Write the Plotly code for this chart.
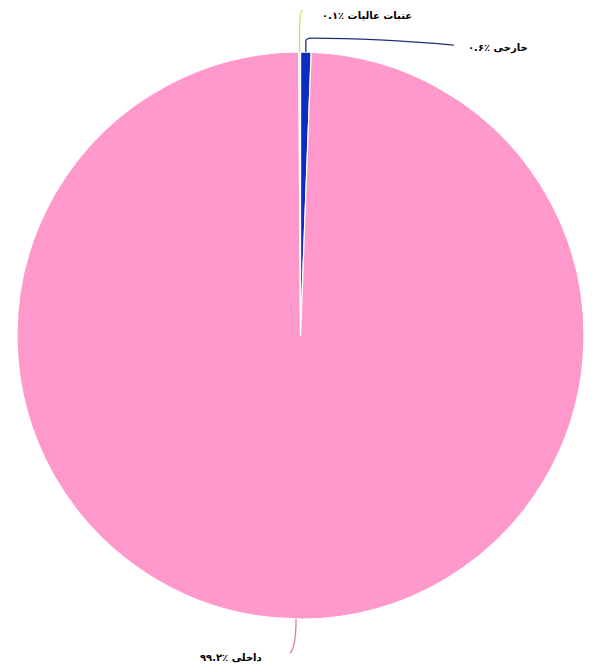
import math
import plotly.graph_objects as go

labels = ["خارجی", "داخلی", "عتبات عالیات"]
values = [0.6, 99.2, 0.1]
value_text = ["۰.۶٪", "۹۹.۲٪", "۰.۱٪"]
colors = ["#0a2fc0", "#ff99cc", "#d6ec7a"]
line_colors = ["#1a2f80", "#e07aa8", "#c8e070"]

PAGE_MARGIN = 8  # default body margin of the html page
W, H = 592 - 2 * PAGE_MARGIN, 671 - 2 * PAGE_MARGIN
left, right, top, bottom = 17, 584, 46, 625  # in page pixels
cx, cy = (left + right) / 2, (top + bottom) / 2
r = min(right - left, bottom - top) / 2


def px(x):
    return (x - PAGE_MARGIN) / W


def py(y):
    return 1 - (y - PAGE_MARGIN) / H


fig = go.Figure(go.Pie(
    labels=labels,
    values=values,
    sort=False,
    direction="clockwise",
    rotation=0,
    marker=dict(colors=colors, line=dict(color="#ffffff", width=1.2)),
    textinfo="none",
    hoverinfo="label+percent",
    domain=dict(x=[px(left), px(right)], y=[py(bottom), py(top)]),
    showlegend=False,
))

total = sum(values)
angles = []
acc = 0
for v in values:
    mid = (acc + v / 2) / total * 360
    angles.append(mid)
    acc += v

shapes = []
annotations = []
styles = [
    dict(kind="elbow", up=14, dx=148, dy=7, tdx=12, tdy=3, xanchor="left"),
    dict(kind="down", down=34, dx=-6, tdx=-26, tdy=5, xanchor="right"),
    dict(kind="up", up=42, dx=3, tdx=20, tdy=-37, xanchor="left"),
]
for i, (lab, vt, ang) in enumerate(zip(labels, value_text, angles)):
    a = math.radians(ang)
    x0 = cx + r * math.sin(a)
    y0 = cy - r * math.cos(a)
    s = styles[i]
    if s["kind"] == "elbow":
        x1, y1 = x0, y0 - s["up"]
        x2, y2 = x0 + s["dx"], y1 + s["dy"]
        path = (f"M {px(x0)},{py(y0)} L {px(x1)},{py(y1 + 3)} "
                f"Q {px(x1)},{py(y1)} {px(x1 + 6)},{py(y1)} "
                f"Q {px(x1 + 70)},{py(y1)} {px(x2)},{py(y2)}")
        tx, ty = x2 + s["tdx"], y2 + s["tdy"]
    elif s["kind"] == "down":
        x2, y2 = x0 + s["dx"], y0 + s["down"]
        path = (f"M {px(x0)},{py(y0)} Q {px(x0)},{py(y2 - 6)} {px(x2)},{py(y2)}")
        tx, ty = x2 + s["tdx"], y2 + s["tdy"]
    else:
        x2, y2 = x0 + s["dx"], y0 - s["up"]
        path = (f"M {px(x0)},{py(y0)} L {px(x0)},{py(y0 - 20)} "
                f"Q {px(x0)},{py(y2)} {px(x2)},{py(y2)}")
        tx, ty = x0 + s["tdx"], y0 + s["tdy"]
    shapes.append(dict(type="path", path=path, xref="paper", yref="paper",
                       line=dict(color=line_colors[i], width=1.3)))
    annotations.append(dict(
        x=px(tx), y=py(ty), xref="paper", yref="paper",
        text=f"<b>{vt} {lab}</b>", showarrow=False,
        xanchor=s["xanchor"], yanchor="middle",
        font=dict(family="DejaVu Sans", size=10, color="#000000"),
    ))

fig.update_layout(
    width=W, height=H,
    margin=dict(l=0, r=0, t=0, b=0),
    paper_bgcolor="#ffffff",
    plot_bgcolor="#ffffff",
    shapes=shapes,
    annotations=annotations,
)

fig.write_html("out.html")
